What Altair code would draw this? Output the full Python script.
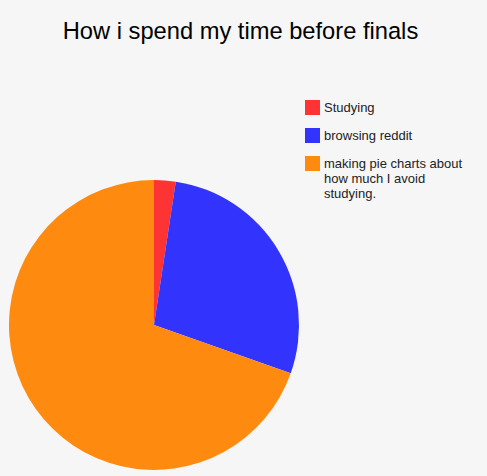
import altair as alt
import pandas as pd

activities = ["Studying", "browsing reddit", "making pie charts about how much I avoid studying."]
shares = [2.4, 28.0, 69.6]
colors = ["#fe3333", "#3333fe", "#fe8a10"]
order = [0, 1, 2]

df = pd.DataFrame({"activity": activities, "share": shares, "order": order})

label_expr = (
    "datum.label == 'making pie charts about how much I avoid studying.' ? "
    "['making pie charts about', 'how much I avoid', 'studying.'] : datum.label"
)

chart = (
    alt.Chart(df)
    .mark_arc(outerRadius=145, stroke=None, strokeWidth=0)
    .encode(
        theta=alt.Theta("share:Q", stack=True),
        order=alt.Order("order:Q"),
        x=alt.value(154),
        y=alt.value(269),
        color=alt.Color(
            "activity:N",
            scale=alt.Scale(domain=activities, range=colors),
            sort=None,
            legend=alt.Legend(
                title=None,
                orient="none",
                legendX=305,
                legendY=44,
                symbolType="square",
                symbolSize=225,
                symbolStrokeWidth=0,
                symbolOpacity=1,
                labelFont="Liberation Sans",
                labelFontSize=13,
                labelColor="#222222",
                labelOffset=4,
                labelLimit=300,
                rowPadding=13,
                labelExpr=label_expr,
            ),
        ),
    )
    .properties(
        width=487,
        height=420,
        padding={"left": 0, "top": 56, "right": 0, "bottom": 0},
        autosize=alt.AutoSizeParams(type="none"),
        background="#f6f6f6",
        title=alt.TitleParams(
            "How i spend my time before finals",
            font="Liberation Sans",
            fontSize=23.7,
            fontWeight="normal",
            color="#000000",
            anchor="middle",
            offset=12,
            dx=-3,
        ),
    )
    .configure_view(stroke=None)
)

chart.save("out.html", embed_options={"renderer": "svg", "actions": False})
